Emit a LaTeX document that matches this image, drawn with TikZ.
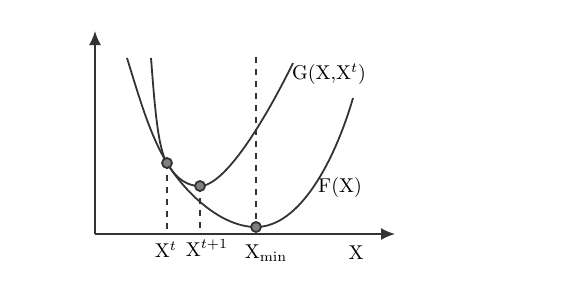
\documentclass[tikz,border=0pt]{standalone}
\usepackage{amssymb, amsmath}
\usetikzlibrary{arrows.meta}

\begin{document}
\begin{tikzpicture}[x=0.5pt,y=-0.5pt, every path/.style={line width=0.9pt, color=black!80},
  dot/.style={circle, draw=black!80, fill=black!50, inner sep=0pt, minimum size=5pt},
  lbl/.style={inner sep=1pt, text=black}]
\useasboundingbox (0,0) rectangle (566,285);

\coordinate (O) at (95,234);
\coordinate (Ytop) at (95,31);
\coordinate (Xend) at (395,234);

\coordinate (T) at (167,163);	
\coordinate (N) at (200,186);	
\coordinate (M) at (256,227);	
\coordinate (Tf) at (167,234);	
\coordinate (Nf) at (200,234);	
\coordinate (Mf) at (256,234);	
\coordinate (Mt) at (256,57);	

\draw[-{Latex[length=7pt,width=6pt]}] (O) -- (Ytop);
\draw[-{Latex[length=7pt,width=6pt]}] (O) -- (Xend);

% F(X)
\draw (127,58) .. controls (140,100) and (150,135) .. (T)
  .. controls (184,191) and (220,227) .. (M)
  .. controls (300,227) and (335,160) .. (353,98);
% G(X,X^t)
\draw (151,58) .. controls (155,110) and (158,148) .. (T)
  .. controls (177,180) and (188,186) .. (N)
  .. controls (225,186) and (265,120) .. (293,63);

\draw[line width=0.6pt, dashed] (T) -- (Tf);
\draw[line width=0.6pt, dashed] (N) -- (Nf);
\draw[line width=0.6pt, dashed] (Mt) -- (Mf);

\node[dot] (t) at (T) {};
\node[dot] (n) at (N) {};
\node[dot] (m) at (M) {};

\node[lbl] (xt) at (166,250) {X$^{t}$};
\node[lbl] (xn) at (207,248) {X$^{t+1}$};
\node[lbl] (xm) at (266,253) {X$_{\min}$};
\node[lbl] (xx) at (356,253) {X};
\node[lbl] (g) at (329,74) {G(X,X$^{t}$)};
\node[lbl] (f) at (340,187) {F(X)};
\end{tikzpicture}
\end{document}
